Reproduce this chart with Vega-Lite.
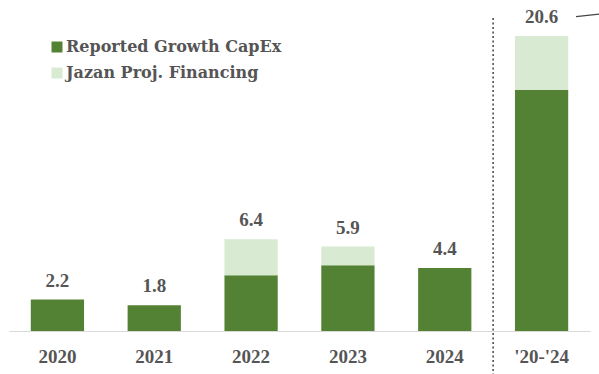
{
  "$schema": "https://vega.github.io/schema/vega-lite/v6.json",
  "width": 581,
  "height": 315,
  "autosize": {"type": "none"},
  "padding": {"left": 9, "top": 16, "right": 9, "bottom": 43},
  "background": "white",
  "config": {"view": {"stroke": null}, "font": "Liberation Serif"},
  "datasets": {
    "bars": [
      {"year": "2020", "series": "Reported Growth CapEx", "ord": 1, "value": 2.2},
      {"year": "2021", "series": "Reported Growth CapEx", "ord": 1, "value": 1.8},
      {"year": "2022", "series": "Reported Growth CapEx", "ord": 1, "value": 3.9},
      {"year": "2022", "series": "Jazan Proj. Financing", "ord": 2, "value": 2.5},
      {"year": "2023", "series": "Reported Growth CapEx", "ord": 1, "value": 4.6},
      {"year": "2023", "series": "Jazan Proj. Financing", "ord": 2, "value": 1.3},
      {"year": "2024", "series": "Reported Growth CapEx", "ord": 1, "value": 4.4},
      {"year": "'20-'24", "series": "Reported Growth CapEx", "ord": 1, "value": 16.85},
      {"year": "'20-'24", "series": "Jazan Proj. Financing", "ord": 2, "value": 3.75}
    ],
    "totals": [
      {"year": "2020", "total": 2.2},
      {"year": "2021", "total": 1.8},
      {"year": "2022", "total": 6.4},
      {"year": "2023", "total": 5.9},
      {"year": "2024", "total": 4.4},
      {"year": "'20-'24", "total": 20.6}
    ],
    "arrow": [
      {"px": 0.976, "py": 21.95},
      {"px": 1.02, "py": 22.15}
    ]
  },
  "resolve": {"scale": {"x": "independent", "y": "shared"}},
  "layer": [
    {
      "layer": [
        {
          "data": {"name": "bars"},
          "mark": {"type": "bar"},
          "encoding": {
            "x": {
              "field": "year", "type": "nominal",
              "scale": {"domain": ["2020", "2021", "2022", "2023", "2024", "'20-'24"], "paddingInner": 0.45, "paddingOuter": 0.225},
              "axis": {
                "title": null, "labelAngle": 0, "ticks": false,
                "domainColor": "#d9d9d9", "domainWidth": 1,
                "labelFontSize": 19, "labelFontWeight": "bold", "labelColor": "#555555",
                "labelPadding": 16
              }
            },
            "y": {
              "field": "value", "type": "quantitative", "stack": "zero",
              "scale": {"domain": [0, 22]}, "axis": null
            },
            "color": {
              "field": "series", "type": "nominal",
              "scale": {"domain": ["Reported Growth CapEx", "Jazan Proj. Financing"], "range": ["#548235", "#d9ead3"]},
              "legend": {
                "title": null, "orient": "none", "legendX": 40, "legendY": 23,
                "symbolType": "square", "symbolSize": 121, "symbolStrokeWidth": 0,
                "labelFont": "DejaVu Serif", "labelFontSize": 16, "labelFontWeight": "bold", "labelColor": "#555555",
                "labelLimit": 400, "rowPadding": 10, "labelOffset": 1
              }
            },
            "order": {"field": "ord", "type": "quantitative"}
          }
        },
        {
          "data": {"name": "totals"},
          "mark": {"type": "text", "dy": -13, "baseline": "alphabetic", "fontSize": 19, "fontWeight": "bold", "color": "#555555"},
          "encoding": {
            "x": {"field": "year", "type": "nominal"},
            "y": {"field": "total", "type": "quantitative"},
            "text": {"field": "total", "type": "quantitative", "format": ".1f"}
          }
        },
        {
          "data": {"values": [{"year": "'20-'24", "y1": 21.86, "y2": -3}]},
          "mark": {"type": "rule", "strokeDash": [2, 2.5], "color": "#444444", "strokeWidth": 1.5},
          "encoding": {
            "x": {"field": "year", "type": "nominal", "bandPosition": -0.41},
            "y": {"field": "y1", "type": "quantitative"},
            "y2": {"field": "y2"}
          }
        }
      ]
    },
    {
      "data": {"name": "arrow"},
      "mark": {"type": "line", "color": "#444444", "strokeWidth": 1.2, "clip": false},
      "encoding": {
        "x": {"field": "px", "type": "quantitative", "scale": {"domain": [0, 1]}, "axis": null},
        "y": {"field": "py", "type": "quantitative"}
      }
    }
  ]
}
